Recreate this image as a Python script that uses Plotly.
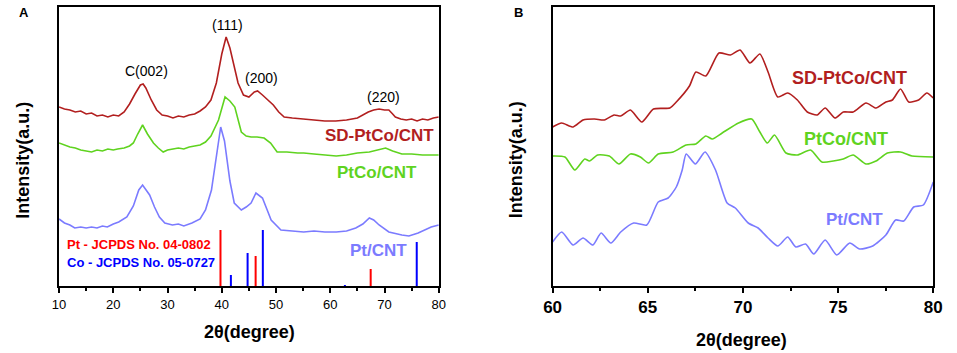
import plotly.graph_objects as go

# ---------------- Panel A data ----------------
a_x_sd = [10, 11, 12, 13, 14, 15, 16, 17, 18, 19, 20, 21, 22, 23, 24, 25, 25.5, 26, 27, 28, 29, 30, 31, 32, 33, 34, 35, 36, 37, 38, 39, 40, 40.8, 41.5, 42.4, 43, 44, 45, 46, 46.6, 47.5, 48.5, 49.5, 50.5, 51.5, 53, 55, 57, 59, 61, 63, 65, 66, 67, 68, 69, 70, 70.8, 71.5, 72, 73, 74, 75, 76, 77, 78, 79, 80]
a_y_sd = [179, 177, 176, 174, 175, 172, 173, 170, 171, 169, 171, 170, 174, 182, 192, 201, 202, 198, 186, 176, 171, 170, 168, 170, 169, 171, 172, 175, 179, 186, 203, 232, 249, 238, 217, 203, 191, 189, 194, 195, 191, 186, 181, 174, 169, 168, 167, 166, 165, 165, 166, 168, 171, 174, 176, 177, 176, 176, 172, 169, 167, 166, 167, 165, 167, 166, 168, 169]

a_x_ptco = [10, 11, 12, 13, 14, 15, 16, 17, 18, 19, 20, 20.8, 22, 23, 23.7, 24.5, 25.4, 26.3, 27.4, 28.3, 29.2, 30, 31, 32, 33, 34, 35, 36, 37, 38, 39.4, 40.6, 41.5, 42.4, 43.6, 44.5, 45.4, 46.5, 47.8, 49, 50.2, 52, 54, 55.1, 57, 59, 61.1, 63, 65, 67.2, 68.5, 70.2, 71.5, 73.2, 75, 77, 79, 80]
a_y_ptco = [143, 141, 139, 138, 136, 135, 134, 136, 135, 137, 136, 137, 138, 140, 143, 152, 161, 152, 143, 138, 134, 136, 137, 138, 137, 139, 140, 141, 144, 150, 166, 189, 185, 179, 154, 150, 149, 149, 148, 143, 134, 134, 133, 133, 132, 131, 130, 131, 133, 134, 136, 138, 135, 132, 132, 131, 131, 131]

a_x_pt = [10, 11, 12, 12.9, 14, 15, 16, 17, 18, 18.9, 20, 21, 22.5, 23.7, 24.7, 25.4, 26.7, 27.6, 28.5, 29.5, 30.9, 32, 33, 34.5, 36, 37, 38.1, 39.1, 39.8, 40.5, 41.5, 42.3, 43.6, 44.5, 45.4, 46.3, 47.5, 48.3, 49.1, 50.9, 53, 55.1, 57, 59, 61.1, 63, 64.7, 66, 67.2, 68, 69, 70.8, 73.2, 74.5, 76.2, 78.6, 80]
a_y_pt = [67, 63, 61, 58, 59, 58, 59, 58, 60, 59, 62, 64, 69, 80, 96, 101, 91, 79, 69, 63, 61, 62, 60, 63, 67, 76, 96, 135, 159, 145, 105, 83, 76, 79, 83, 93, 88, 77, 66, 56, 55, 54, 55, 54, 54, 55, 58, 62, 68, 66, 61, 54, 51, 50, 53, 59, 61]

pt_ref_x = [39.76, 46.24, 67.45]
pt_ref_h = [56, 30, 17]
co_ref_x = [41.68, 44.76, 47.57, 62.7, 75.94]
co_ref_h = [11, 33, 56, 1, 44]

a_ticks = [10, 20, 30, 40, 50, 60, 70, 80]

# ---------------- Panel B data ----------------
b_x_sd = [60, 60.48, 61.08, 61.6, 62.2, 62.72, 63.23, 63.58, 64.09, 64.69, 65.3, 66.16, 66.5, 67.19, 67.53, 68.05, 68.74, 69.34, 69.85, 70.37, 70.89, 71.32, 71.83, 72.35, 72.86, 73.38, 73.9, 74.32, 74.84, 75.27, 75.79, 76.47, 76.99, 77.51, 77.85, 78.28, 78.71, 79.23, 79.66, 80]
b_y_sd = [159, 163, 159, 166, 167, 166, 171, 170, 176, 164, 177, 178, 184, 200, 214, 210, 233, 231, 236, 223, 232, 214, 189, 193, 186, 174, 171, 178, 168, 174, 174, 183, 178, 184, 186, 197, 184, 186, 193, 188]

b_x_ptco = [60, 60.65, 61.17, 61.69, 61.94, 62.37, 62.98, 63.49, 64.09, 64.61, 65.04, 65.55, 66.33, 67.02, 67.53, 68.05, 68.39, 68.91, 69.77, 70.46, 70.89, 71.28, 71.66, 72.26, 72.86, 73.55, 74.15, 74.75, 75.27, 75.79, 76.47, 76.99, 77.59, 78.28, 78.88, 80]
b_y_ptco = [130, 129, 116, 127, 125, 131, 130, 122, 132, 129, 123, 132, 134, 141, 142, 150, 147, 153, 163, 167, 154, 143, 151, 133, 131, 136, 124, 125, 127, 131, 122, 125, 133, 134, 130, 129]

b_x_pt = [60, 60.48, 61.08, 61.6, 62.12, 62.55, 63.06, 63.58, 64.26, 64.95, 65.55, 66.07, 66.5, 66.81, 67.02, 67.5, 68.01, 68.56, 69.17, 69.6, 70.28, 70.8, 71.32, 71.83, 72.35, 72.78, 73.29, 73.72, 74.32, 74.93, 75.61, 76.13, 76.82, 77.51, 78.02, 78.45, 78.97, 79.48, 80]
b_y_pt = [44, 54, 41, 48, 41, 53, 43, 54, 63, 61, 84, 88, 99, 116, 132, 122, 134, 116, 83, 78, 63, 58, 48, 40, 49, 39, 42, 32, 46, 31, 43, 37, 40, 51, 66, 65, 79, 81, 104]

b_ticks = [60, 65, 70, 75, 80]

C_SD = "#b21f1f"
C_PTCO = "#5fd31f"
C_PT = "#7b7bff"

fig = go.Figure()

# Panel A curves
fig.add_trace(go.Scatter(x=a_x_sd, y=a_y_sd, mode="lines", line=dict(color=C_SD, width=1.6), xaxis="x", yaxis="y"))
fig.add_trace(go.Scatter(x=a_x_ptco, y=a_y_ptco, mode="lines", line=dict(color=C_PTCO, width=1.6), xaxis="x", yaxis="y"))
fig.add_trace(go.Scatter(x=a_x_pt, y=a_y_pt, mode="lines", line=dict(color=C_PT, width=1.6), xaxis="x", yaxis="y"))

def sticks(xs, hs):
    X, Y = [], []
    for xv, hv in zip(xs, hs):
        X += [xv, xv, None]
        Y += [0, hv, None]
    return X, Y

px_, py_ = sticks(pt_ref_x, pt_ref_h)
fig.add_trace(go.Scatter(x=px_, y=py_, mode="lines", line=dict(color="#ff0000", width=2), xaxis="x", yaxis="y"))
cx_, cy_ = sticks(co_ref_x, co_ref_h)
fig.add_trace(go.Scatter(x=cx_, y=cy_, mode="lines", line=dict(color="#0000ff", width=2), xaxis="x", yaxis="y"))

# Panel B curves
fig.add_trace(go.Scatter(x=b_x_sd, y=b_y_sd, mode="lines", line=dict(color=C_SD, width=1.6, shape="spline", smoothing=0.6), xaxis="x2", yaxis="y2"))
fig.add_trace(go.Scatter(x=b_x_ptco, y=b_y_ptco, mode="lines", line=dict(color=C_PTCO, width=1.6, shape="spline", smoothing=0.6), xaxis="x2", yaxis="y2"))
fig.add_trace(go.Scatter(x=b_x_pt, y=b_y_pt, mode="lines", line=dict(color=C_PT, width=1.6, shape="spline", smoothing=0.6), xaxis="x2", yaxis="y2"))

W, H = 957, 353
ydom = [1 - 286 / H, 1 - 7 / H]

axis_common = dict(showline=True, linecolor="black", linewidth=2, mirror=True,
                   ticks="outside", ticklen=5, tickwidth=1.5, tickcolor="black",
                   showgrid=False, zeroline=False)

fig.update_layout(
    width=W, height=H, margin=dict(l=0, r=0, t=0, b=0),
    paper_bgcolor="white", plot_bgcolor="white", showlegend=False,
    xaxis=dict(domain=[51 / W, 438 / W], range=[10, 80], tickvals=a_ticks,
               minor=dict(ticks="outside", ticklen=3, tickwidth=1.5, tickcolor="black", dtick=5, tick0=10),
               tickfont=dict(family="Arial, Liberation Sans", size=13, color="black"),
               anchor="y", **axis_common),
    yaxis=dict(domain=ydom, range=[0, 279], showticklabels=False, anchor="x",
               showline=True, linecolor="black", linewidth=2, mirror=True, ticks="",
               showgrid=False, zeroline=False),
    xaxis2=dict(domain=[554 / W, 942 / W], range=[60, 80], tickvals=b_ticks,
                minor=dict(ticks="outside", ticklen=3, tickwidth=1.5, tickcolor="black", dtick=2.5, tick0=60),
                tickfont=dict(family="Arial, Liberation Sans", size=17, color="black", weight="bold"),
                anchor="y2", **axis_common),
    yaxis2=dict(domain=ydom, range=[0, 279], showticklabels=False, anchor="x2",
                showline=True, linecolor="black", linewidth=2, mirror=True, ticks="",
                showgrid=False, zeroline=False),
)

F = "Arial, Liberation Sans"
ann = []
def t(text, x, y, size, color="black", bold=False, xref="x", yref="y", xanchor="center", angle=0):
    ann.append(dict(text=text, x=x, y=y, xref=xref, yref=yref, xanchor=xanchor, yanchor="middle",
                    showarrow=False, textangle=angle,
                    font=dict(family=F, size=size, color=color, weight="bold" if bold else "normal")))

# Panel labels
t("A", 15 / W, 1 - 13 / H, 13, bold=True, xref="paper", yref="paper")
t("B", 519 / W, 1 - 13 / H, 13, bold=True, xref="paper", yref="paper")
# Axis titles
t("Intensity(a.u.)", 14 / W, 1 - 160 / H, 18, bold=True, xref="paper", yref="paper", angle=-90)
t("Intensity(a.u.)", 517 / W, 1 - 160 / H, 18, bold=True, xref="paper", yref="paper", angle=-90)
t("2θ(degree)", 245 / W, 1 - 332 / H, 18, bold=True, xref="paper", yref="paper")
t("2θ(degree)", 747 / W, 1 - 340 / H, 18, bold=True, xref="paper", yref="paper")
# Panel A peak labels
t("C(002)", 26.2, 215, 14)
t("(111)", 41.1, 261, 14)
t("(200)", 47.4, 208, 14)
t("(220)", 69.9, 189, 14)
# Panel A series labels
t("SD-PtCo/CNT", 79.5, 151, 17, color=C_SD, bold=True, xanchor="right")
t("PtCo/CNT", 76.4, 114, 17, color=C_PTCO, bold=True, xanchor="right")
t("Pt/CNT", 74.6, 36, 17, color=C_PT, bold=True, xanchor="right")
t("Pt - JCPDS No. 04-0802", 11.1, 42, 13, color="#ff0000", bold=True, xanchor="left")
t("Co - JCPDS No. 05-0727", 11.1, 24, 13, color="#0000ff", bold=True, xanchor="left")
# Panel B series labels
t("SD-PtCo/CNT", 78.73, 208, 18, color=C_SD, bold=True, xanchor="right", xref="x2", yref="y2")
t("PtCo/CNT", 77.75, 147, 18, color=C_PTCO, bold=True, xanchor="right", xref="x2", yref="y2")
t("Pt/CNT", 77.49, 67, 17, color=C_PT, bold=True, xanchor="right", xref="x2", yref="y2")

fig.update_layout(annotations=ann)
fig.write_html(
    "out.html",
    config={"displayModeBar": False},
    post_script="document.body.style.margin='0';document.body.style.overflow='hidden';",
)
